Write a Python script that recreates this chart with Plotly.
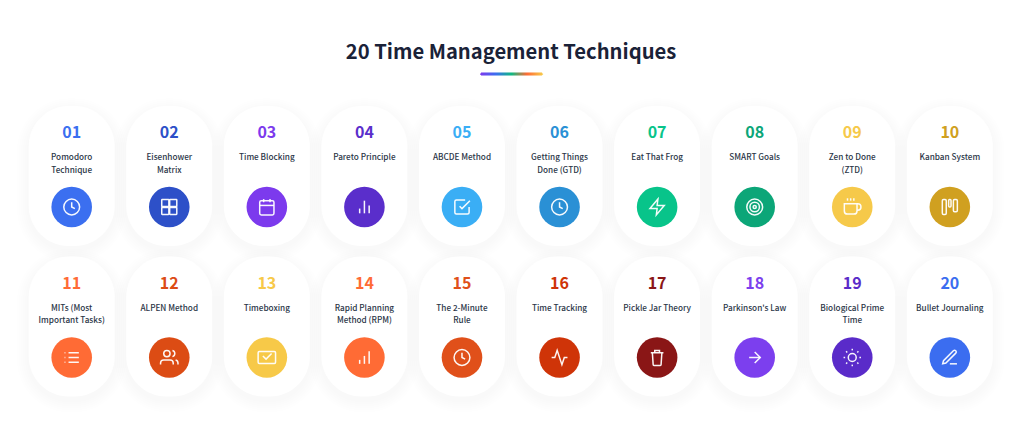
import re
import plotly.graph_objects as go

# chart content
title = "20 Time Management Techniques"
numbers = ["01", "02", "03", "04", "05", "06", "07", "08", "09", "10",
           "11", "12", "13", "14", "15", "16", "17", "18", "19", "20"]
labels = ["Pomodoro<br>Technique", "Eisenhower<br>Matrix", "Time Blocking", "Pareto Principle",
          "ABCDE Method", "Getting Things<br>Done (GTD)", "Eat That Frog", "SMART Goals",
          "Zen to Done<br>(ZTD)", "Kanban System",
          "MITs (Most<br>Important Tasks)", "ALPEN Method", "Timeboxing",
          "Rapid Planning<br>Method (RPM)", "The 2-Minute<br>Rule", "Time Tracking",
          "Pickle Jar Theory", "Parkinson's Law", "Biological Prime<br>Time", "Bullet Journaling"]
colors = ["#3b6ff0", "#2d50c8", "#7c3aed", "#5a2ecb", "#3aaef5", "#2a90d5", "#08c48a", "#0ca678",
          "#f6c94a", "#d0a020",
          "#ff6b35", "#dc4c14", "#f7c948", "#ff6b35", "#e0501a", "#cf3408", "#8a1616",
          "#7c3fee", "#5a2bc9", "#3b6df0"]
icons = ["clock", "grid", "calendar", "bars", "check", "clock", "zap", "target", "coffee", "kanban",
         "list", "users", "mail", "steps", "clock", "activity", "trash", "arrow", "sun", "pen"]
rule_colors = ["#7c3aed", "#3b6ff0", "#10b981", "#ff6b35", "#f7c948"]

# layout in pixels
W, H = 1024, 446
col_x0 = 71.7
col_step = 97.57
row_tops = [106, 256.5]
card_w, card_h = 86, 140


def rrect(x0, y0, x1, y1, r):
    k = r * 0.45
    return (f"M{x0 + r} {y0}L{x1 - r} {y0}C{x1 - k} {y0} {x1} {y0 + k} {x1} {y0 + r}"
            f"L{x1} {y1 - r}C{x1} {y1 - k} {x1 - k} {y1} {x1 - r} {y1}"
            f"L{x0 + r} {y1}C{x0 + k} {y1} {x0} {y1 - k} {x0} {y1 - r}"
            f"L{x0} {y0 + r}C{x0} {y0 + k} {x0 + k} {y0} {x0 + r} {y0}Z")


def circ(cx, cy, r):
    return rrect(cx - r, cy - r, cx + r, cy + r, r)


# feather style icons on a 24 unit box
ICON_PATHS = {
    "clock": [circ(12, 12, 10), "M12 6L12 12L16 14"],
    "grid": [rrect(2.5, 2.5, 11.5, 11.5, 0.5), rrect(12.5, 2.5, 21.5, 11.5, 0.5),
             rrect(2.5, 12.5, 11.5, 21.5, 0.5), rrect(12.5, 12.5, 21.5, 21.5, 0.5)],
    "calendar": [rrect(3, 4, 21, 22, 2), "M16 2L16 6", "M8 2L8 6", "M3 10L21 10"],
    "bars": ["M6 20L6 14", "M12 20L12 4", "M18 20L18 10"],
    "steps": ["M6 20L6 15", "M12 20L12 10", "M18 20L18 4"],
    "check": ["M9 11L12 14L22 4",
              "M21 12L21 19C21 20.1 20.1 21 19 21L5 21C3.9 21 3 20.1 3 19L3 5C3 3.9 3.9 3 5 3L16 3"],
    "zap": ["M13 2L3 14L12 14L11 22L21 10L12 10Z"],
    "target": [circ(12, 12, 10), circ(12, 12, 6), circ(12, 12, 2)],
    "coffee": ["M18 8L19 8C21.2 8 23 9.8 23 12C23 14.2 21.2 16 19 16L18 16",
               "M2 8L18 8L18 17C18 19.2 16.2 21 14 21L6 21C3.8 21 2 19.2 2 17Z",
               "M6 1L6 4", "M10 1L10 4", "M14 1L14 4"],
    "kanban": [rrect(2.5, 2.5, 7.5, 21.5, 1.5), rrect(10.5, 2.5, 13.5, 12, 1.2), rrect(16.5, 2.5, 21.5, 18, 1.5)],
    "list": ["M8 6L21 6", "M8 12L21 12", "M8 18L21 18", "M3 6L4 6", "M3 12L4 12", "M3 18L4 18"],
    "users": ["M17 21L17 19C17 16.8 15.2 15 13 15L5 15C2.8 15 1 16.8 1 19L1 21", circ(9, 7, 4),
              "M23 21L23 19C23 17.2 21.8 15.6 20 15.1",
              "M16 3.1C17.8 3.6 19 5.2 19 7C19 8.8 17.8 10.4 16 10.9"],
    "mail": [rrect(1, 4.5, 23, 19.5, 1.5), "M7 10L11 14L18 7"],
    "activity": ["M22 12L18 12L15 21L9 3L6 12L2 12"],
    "trash": ["M4 6L20 6", "M6 6L7 21C7 21.6 7.4 22 8 22L16 22C16.6 22 17 21.6 17 21L18 6",
              "M9 6L9 3L15 3L15 6"],
    "arrow": ["M5 12L19 12", "M12 5L19 12L12 19"],
    "sun": [circ(12, 12, 5), "M12 1L12 3", "M12 21L12 23", "M4.22 4.22L5.64 5.64", "M18.36 18.36L19.78 19.78",
            "M1 12L3 12", "M21 12L23 12", "M4.22 19.78L5.64 18.36", "M18.36 5.64L19.78 4.22"],
    "pen": ["M12 20L21 20",
            "M16.5 3.5C17.3 2.7 18.7 2.7 19.5 3.5C20.3 4.3 20.3 5.7 19.5 6.5L7 19L3 20L4 16Z"],
}
ICON_SCALE = 19 / 24


def place_icon(path, cx, cy):
    # coordinates in the icon paths are always absolute x y pairs
    count = [0]

    def repl(m):
        v = float(m.group(0))
        is_x = count[0] % 2 == 0
        count[0] += 1
        if is_x:
            return f"{cx + (v - 12) * ICON_SCALE:.2f}"
        return f"{cy + (v - 12) * ICON_SCALE:.2f}"

    return re.sub(r"-?\d+\.?\d*", repl, path)


def blend(c1, c2, t):
    a = [int(c1[i:i + 2], 16) for i in (1, 3, 5)]
    b = [int(c2[i:i + 2], 16) for i in (1, 3, 5)]
    return "rgb(%d,%d,%d)" % tuple(round(p + (q - p) * t) for p, q in zip(a, b))


shapes = []
xs, ys, texts, text_colors = [], [], [], []
lx, ly, ltext = [], [], []

for i, num in enumerate(numbers):
    row = i // 10
    cx = col_x0 + col_step * (i % 10)
    top = row_tops[row]
    x0, x1 = cx - card_w / 2, cx + card_w / 2
    # soft shadow, stacked faint layers below the card
    for grow in range(12, 0, -2):
        shapes.append(dict(type="path", layer="below", fillcolor="rgba(20,20,50,0.0045)",
                           line=dict(width=0),
                           path=rrect(x0 - grow, top + 4 - grow, x1 + grow, top + card_h + 4 + grow, 40 + grow)))
    shapes.append(dict(type="path", layer="below", fillcolor="#ffffff", line=dict(width=0),
                       path=rrect(x0, top, x1, top + card_h, 40)))
    # icon disc and glyph
    cy = top + 101
    shapes.append(dict(type="circle", fillcolor=colors[i], line=dict(width=0),
                       x0=cx - 20.3, x1=cx + 20.3, y0=cy - 20.3, y1=cy + 20.3))
    for p in ICON_PATHS[icons[i]]:
        shapes.append(dict(type="path", path=place_icon(p, cx, cy),
                           line=dict(color="rgba(255,255,255,0.95)", width=1.5)))
    xs.append(cx)
    ys.append(top + 28)
    texts.append(num)
    text_colors.append(colors[i])
    for j, line in enumerate(labels[i].split("<br>")):
        lx.append(cx)
        ly.append(top + 52 + j * 12.5)
        ltext.append(line)

# gradient rule under the title, built out of thin slices
rule_x0, rule_x1 = 480, 543
n_slices = 63
for k in range(n_slices):
    t = k / (n_slices - 1) * (len(rule_colors) - 1)
    a = min(int(t), len(rule_colors) - 2)
    inset = 0.8 if k in (0, n_slices - 1) else 0
    shapes.append(dict(type="rect", fillcolor=blend(rule_colors[a], rule_colors[a + 1], t - a),
                       line=dict(width=0),
                       x0=rule_x0 + k, x1=rule_x0 + k + 1.1, y0=72.6 + inset, y1=75.6 - inset))

fig = go.Figure()
fig.add_trace(go.Scatter(x=xs, y=ys, mode="text", text=texts, textposition="middle center",
                         textfont=dict(family="Noto Sans CJK JP", size=16, weight=700, color=text_colors),
                         hoverinfo="skip"))
fig.add_trace(go.Scatter(x=lx, y=ly, mode="text", text=ltext, textposition="middle center",
                         textfont=dict(family="Noto Sans CJK JP", size=8.2, weight=500, color="#2b3648"),
                         hoverinfo="skip"))
fig.add_trace(go.Scatter(x=[511], y=[54], mode="text", text=[title], textposition="middle center",
                         textfont=dict(family="Noto Sans CJK JP", size=20.2, weight=700, color="#1a2238"),
                         hoverinfo="skip"))

fig.update_layout(width=W, height=H, margin=dict(l=0, r=0, t=0, b=0), showlegend=False,
                  paper_bgcolor="#ffffff", plot_bgcolor="#ffffff", shapes=shapes)
fig.update_xaxes(range=[0, W], visible=False, fixedrange=True)
fig.update_yaxes(range=[H, 0], visible=False, fixedrange=True)

fig.write_html("out.html", config={"displayModeBar": False},
               post_script="document.body.style.margin='0';")
